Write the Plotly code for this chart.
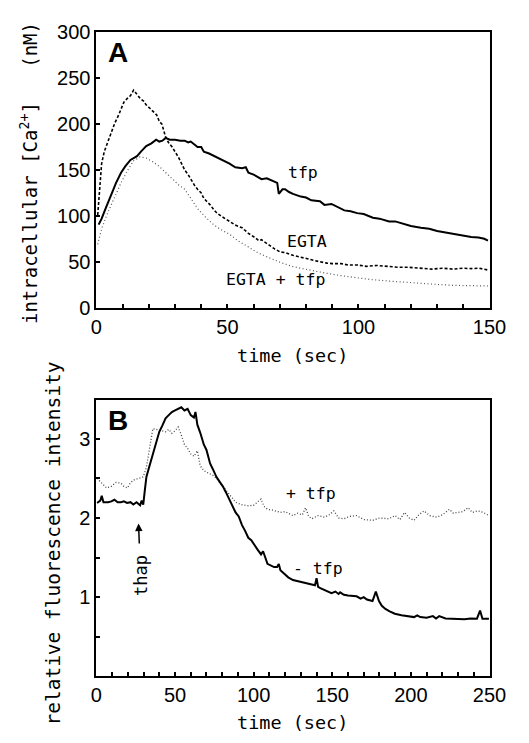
import plotly.graph_objects as go

# ---------- Panel A data (time in sec, [Ca2+] in nM) ----------
a_tfp_t = [0.85, 2, 3.5, 5.7, 7.5, 9.4, 11, 13, 15.5, 17, 19, 21, 22.8, 24, 25.2, 26.4, 28, 30, 32, 33.7, 35, 36, 37.5, 38.6, 40, 41, 43, 46, 48, 50.8, 53, 55.6, 57, 58, 60, 63, 65, 68, 69, 69.6, 71, 72, 73.5, 75, 78, 80, 82, 85.3, 87, 89.7, 92, 94.6, 97, 99.5, 102, 105.5, 108, 111.7, 114, 117.7, 120, 123.8, 127, 130, 133, 136, 139, 141, 143, 145.8, 148, 149.4]
a_tfp_y = [90.5, 97, 108, 124, 136, 147, 154, 161, 165, 170, 176, 179, 183, 181, 182, 185, 183, 183, 182, 182, 180, 181, 177, 175, 175, 170, 168, 164, 161, 157, 153, 152, 153, 147, 145, 140, 141, 137, 136, 124, 129, 129, 126, 124, 121, 120, 117, 116, 112, 113, 110, 106, 105, 103, 102, 98, 97, 94, 94, 90.5, 89, 87, 86, 83.5, 82, 80, 79, 78, 77, 76.4, 75, 73]

a_egta_t = [0.5, 1.2, 2, 3, 4.5, 6, 7, 8.5, 9.4, 10.5, 11.8, 13, 14.2, 15.5, 16.7, 18, 19, 20.5, 21.5, 23, 24, 25, 26.4, 27.5, 28.9, 30, 31.3, 32.5, 33.7, 35, 36, 37.5, 38.6, 40, 41, 42.5, 43.4, 45, 46, 48, 50.8, 53, 55.6, 58, 60.5, 62, 63, 65.4, 68, 70.2, 72, 75, 78, 80, 83, 85.3, 88, 90, 93.4, 96, 99.5, 103, 107, 111.7, 115, 119, 123.8, 128, 132, 136, 140, 143, 146, 149.4]
a_egta_y = [101, 130, 157, 170, 182, 195, 201, 210, 217, 224, 228, 231, 237, 232, 228, 225, 221, 217, 214, 210, 203, 200, 186, 180, 175, 170, 164, 157, 150, 145, 140, 133, 129, 125, 119, 115, 112, 106, 103, 99, 94, 90, 87, 81, 76.4, 73, 74, 69, 64, 60.6, 60, 57, 55, 53.5, 51, 50, 48.5, 48, 48, 46.5, 46.5, 45, 46, 44.7, 44, 44, 43, 42, 43, 42, 43, 42.5, 43, 41]

a_egtatfp_t = [0.5, 2, 4.5, 7, 9.4, 12, 14.2, 16.7, 19, 21.5, 24, 26.5, 28.9, 31.3, 33.7, 36, 38.6, 41.5, 44.7, 47.5, 50.8, 54, 58, 61.5, 65.4, 70, 75, 81, 87.3, 93, 99.5, 105, 111.7, 118, 123.8, 130, 136, 143, 149.4]
a_egtatfp_y = [69, 86, 104.6, 121, 136, 150, 160, 164.4, 163, 159, 154, 147, 140, 134, 129, 119, 108, 99, 90.5, 85, 80, 73, 66, 60, 55, 49.5, 44.7, 41, 37.7, 35, 32.4, 30.5, 29, 27.5, 26.4, 25.3, 24.3, 24, 23.6]

# ---------- Panel B data (time in sec, relative fluorescence) ----------
b_minus_t = [0.4, 2.5, 3.4, 4.5, 5.5, 7.5, 9.5, 11.5, 13.5, 15.6, 17.5, 19.5, 21.7, 23.5, 25.5, 27.8, 28.8, 29.8, 30.8, 31.8, 33.8, 35.9, 38, 40, 42, 44, 46, 48, 50, 52, 54, 56, 58, 60, 62, 63, 64.2, 66, 68.3, 70, 72.3, 74, 76.3, 78, 80.4, 82.5, 84.5, 86.5, 88.5, 90.5, 92.6, 94.5, 96.6, 98.5, 100.7, 102.5, 104.7, 106, 108.8, 111, 113, 114.9, 116, 117, 119, 122, 125, 128, 131, 133, 136, 139, 140, 141, 142.4, 145, 147, 149.5, 152, 154, 155, 157.4, 160, 163, 165.5, 168, 170, 172, 175.6, 177.7, 179.7, 181.5, 183.8, 186.5, 189.8, 194, 198, 202, 204, 206, 210, 214, 216, 218, 222, 226, 230, 234, 238, 242, 244, 245.5, 249.6]
b_minus_y = [2.19, 2.22, 2.28, 2.2, 2.2, 2.2, 2.21, 2.23, 2.2, 2.2, 2.21, 2.19, 2.2, 2.17, 2.2, 2.16, 2.22, 2.17, 2.35, 2.52, 2.66, 2.81, 2.96, 3.09, 3.17, 3.26, 3.3, 3.34, 3.36, 3.38, 3.4, 3.36, 3.38, 3.3, 3.27, 3.34, 3.18, 3.08, 2.93, 2.86, 2.69, 2.62, 2.52, 2.47, 2.4, 2.32, 2.24, 2.16, 2.07, 2.02, 1.91, 1.84, 1.75, 1.72, 1.645, 1.6, 1.54, 1.58, 1.42, 1.4, 1.38, 1.38, 1.42, 1.34, 1.3, 1.25, 1.216, 1.2, 1.19, 1.175, 1.16, 1.15, 1.24, 1.13, 1.114, 1.09, 1.07, 1.05, 1.07, 1.04, 1.06, 1.03, 1.02, 1.01, 1.01, 0.98, 1.0, 0.97, 0.95, 1.07, 0.95, 0.89, 0.85, 0.82, 0.79, 0.77, 0.76, 0.747, 0.77, 0.747, 0.74, 0.76, 0.73, 0.76, 0.73, 0.727, 0.73, 0.72, 0.73, 0.727, 0.83, 0.727, 0.727]

b_plus_t = [0.4, 3.4, 6.5, 9.5, 12.5, 15.6, 17.5, 19.7, 21.5, 23.7, 26.5, 29.8, 31.8, 33.8, 35.9, 38, 40, 42, 44, 46, 48, 50, 52, 54, 56, 58, 60, 62, 64.2, 66, 68.3, 70, 72.3, 74, 76.3, 78, 80.4, 82.5, 84.5, 86.5, 88.5, 92, 96.6, 100, 102.5, 104.7, 106.5, 108.8, 112, 116.9, 120, 125, 128, 131, 133, 135, 137, 141, 145, 148, 151, 154, 157.4, 161, 165.5, 170, 175.6, 180, 185.8, 190, 193, 196, 199, 202, 205, 208.3, 212, 216.4, 220, 224.5, 227, 230.4, 233, 236.4, 239, 242.5, 246, 249.6]
b_plus_y = [2.5, 2.44, 2.38, 2.4, 2.45, 2.44, 2.4, 2.38, 2.44, 2.48, 2.5, 2.52, 2.64, 2.9, 3.13, 3.12, 3.11, 3.1, 3.09, 3.12, 3.07, 3.1, 3.15, 3.05, 2.93, 2.88, 2.81, 2.78, 2.85, 2.66, 2.6, 2.58, 2.56, 2.54, 2.5, 2.46, 2.4, 2.36, 2.3, 2.25, 2.2, 2.17, 2.155, 2.16, 2.2, 2.24, 2.15, 2.11, 2.1, 2.07, 2.08, 2.03, 2.06, 2.04, 2.13, 2.02, 1.99, 2.03, 2.01, 2.04, 2.09, 2.0, 1.99, 2.02, 2.03, 1.98, 1.97, 2.0, 1.99, 2.03, 1.98, 2.07, 2.0, 1.97, 2.04, 2.09, 2.03, 2.01, 2.04, 2.11, 2.06, 2.07, 2.08, 2.13, 2.07, 2.09, 2.07, 2.03]

# ---------- labels ----------
a_x_ticks = [0, 50, 100, 150]
a_y_ticks = [0, 50, 100, 150, 200, 250, 300]
b_x_ticks = [0, 50, 100, 150, 200, 250]
b_y_ticks = [1, 2, 3]

MONO = "DejaVu Sans Mono"
SANS = "Liberation Sans"

fig = go.Figure()
fig.add_trace(go.Scatter(x=a_tfp_t, y=a_tfp_y, mode="lines", line=dict(color="black", width=2), xaxis="x", yaxis="y"))
fig.add_trace(go.Scatter(x=a_egta_t, y=a_egta_y, mode="lines", line=dict(color="black", width=1.6, dash="3px,2px"), xaxis="x", yaxis="y"))
fig.add_trace(go.Scatter(x=a_egtatfp_t, y=a_egtatfp_y, mode="lines", line=dict(color="#555555", width=1.2, dash="1px,2.5px"), xaxis="x", yaxis="y"))
fig.add_trace(go.Scatter(x=b_plus_t, y=b_plus_y, mode="lines", line=dict(color="#444444", width=1.3, dash="1px,2px"), xaxis="x2", yaxis="y2"))
fig.add_trace(go.Scatter(x=b_minus_t, y=b_minus_y, mode="lines", line=dict(color="black", width=2), xaxis="x2", yaxis="y2"))

W, H = 529, 743
xdom = [94.5 / W, 505.5 / W]
axis_common = dict(showgrid=False, zeroline=False, showline=True, linecolor="black", linewidth=2,
                   mirror=True, ticks="inside", ticklen=4, tickcolor="black", tickwidth=1.5,
                   tickfont=dict(family=SANS, size=20, color="black"))

fig.update_layout(
    width=W, height=H, margin=dict(l=0, r=0, t=0, b=0),
    paper_bgcolor="white", plot_bgcolor="white", showlegend=False,
    xaxis=dict(domain=xdom, anchor="y", range=[0, 150], tickvals=a_x_ticks,
               minor=dict(dtick=10, ticks="inside", ticklen=4, tickcolor="black", tickwidth=1.5),
               **axis_common),
    yaxis=dict(domain=[1 - 305.7 / H, 1 - 22 / H], anchor="x", range=[0, 300], tickvals=a_y_ticks,
               **axis_common),
    xaxis2=dict(domain=xdom, anchor="y2", range=[0, 250], tickvals=b_x_ticks,
                minor=dict(dtick=10, ticks="inside", ticklen=4, tickcolor="black", tickwidth=1.5),
                **axis_common),
    yaxis2=dict(domain=[1 - 685.5 / H, 1 - 401 / H], anchor="x2", range=[0, 3.49], tickvals=b_y_ticks,
                minor=dict(dtick=0.5, ticks="inside", ticklen=4, tickcolor="black", tickwidth=1.5),
                **axis_common),
)

def ptext(x, y, text, size=18, angle=0, family=MONO, **kw):
    fig.add_annotation(x=x / W, y=1 - y / H, xref="paper", yref="paper", text=text, showarrow=False,
                       textangle=angle, font=dict(family=family, size=size, color="black"),
                       xanchor="center", yanchor="middle", **kw)

# axis titles
ptext(300, 355, "time (sec)", size=18.5)
ptext(300, 733, "time (sec)", size=18.5)
ptext(24, 167, "intracellular [Ca<sup>2+</sup>]\u00a0\u00a0\u00a0(nM)", size=19, angle=-90)
ptext(50, 549, "relative fluorescence intensity", size=19.5, angle=-90)

# panel letters
ptext(117.5, 43, "<b>A</b>", size=28, family="Liberation Sans")
ptext(117.5, 422, "<b>B</b>", size=28, family="Liberation Sans")

# curve labels (data coords)
def dtext(x, y, text, xr, yr, size=16.5, angle=0):
    fig.add_annotation(x=x, y=y, xref=xr, yref=yr, text=text, showarrow=False, textangle=angle,
                       font=dict(family=MONO, size=size, color="black"), xanchor="center", yanchor="middle")

dtext(78.7, 147, "tfp", "x", "y")
dtext(80.2, 71.7, "EGTA", "x", "y")
dtext(68.3, 30.4, "EGTA + tfp", "x", "y")
dtext(136.5, 2.31, "+ tfp", "x2", "y2")
dtext(141, 1.36, "- tfp", "x2", "y2")

# thap label with its arrow pointing up
fig.add_annotation(x=26.8, y=1.93, xref="x2", yref="y2", text="thap", textangle=-90,
                   font=dict(family=MONO, size=17, color="black"),
                   showarrow=True, ax=2, ay=52, axref="pixel", ayref="pixel",
                   arrowhead=2, arrowsize=1, arrowwidth=1.5, arrowcolor="black", standoff=0, startstandoff=10)

fig.write_html("out.html")
